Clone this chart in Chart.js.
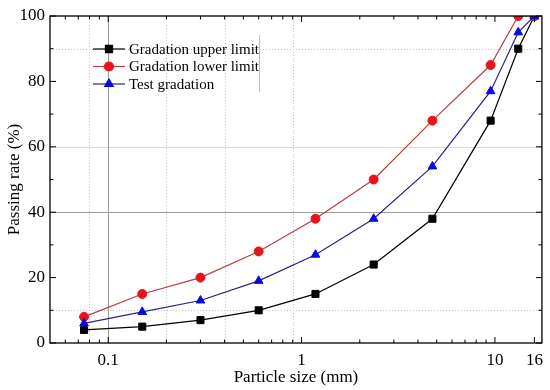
<!DOCTYPE html>
<html>
<head>
<meta charset="utf-8">
<script src="https://cdn.jsdelivr.net/npm/chart.js@4.4.1/dist/chart.umd.min.js"></script>
<style>
    html, body { margin: 0; padding: 0; background: #fff; }
    #contenedor { width: 550px; height: 390px; }
</style>
</head>
<body>
<div id="contenedor"><canvas id="gradacion"></canvas></div>
<script>
// Tamanos de tamiz (mm) y porcentaje que pasa
const tamanos = [0.075, 0.15, 0.3, 0.6, 1.18, 2.36, 4.75, 9.5, 13.2, 16];
const limiteSuperior = [4, 5, 7, 10, 15, 24, 38, 68, 90, 100];
const limiteInferior = [8, 15, 20, 28, 38, 50, 68, 85, 100, 100];
const gradacionEnsayo = [6, 9.5, 13, 19, 27, 38, 54, 77, 95, 100];
const nombresSeries = ['Gradation upper limit', 'Gradation lower limit', 'Test gradation'];

// Marcas del eje x (log) y las que llevan etiqueta
const marcasX = [0.06, 0.07, 0.08, 0.09, 0.1, 0.2, 0.3, 0.4, 0.5, 0.6, 0.7, 0.8, 0.9,
                 1, 2, 3, 4, 5, 6, 7, 8, 9, 10, 16];
const etiquetasX = [0.1, 1, 10, 16];

// Lineas de rejilla que aparecen en la figura original
const rejillaXPunteada = [0.08, 0.2, 0.4, 0.9];
const rejillaXSolida = [0.1];
const rejillaYPunteada = [10, 90];
const rejillaYClara = [60];
const rejillaYSolida = [40];

const fuente = "'Liberation Serif', 'Times New Roman', serif";
const aPuntos = valores => tamanos.map((t, i) => ({ x: t, y: valores[i] }));

// Plugin para rejilla, marco con marcas hacia dentro y leyenda interior
const marcoPlugin = {
    id: 'marco',
    beforeDatasetsDraw(chart) {
        const { ctx, chartArea: a, scales: { x, y } } = chart;
        ctx.save();
        ctx.lineWidth = 1;
        const vertical = (v, color, dash) => {
            const px = Math.round(x.getPixelForValue(v)) + 0.5;
            ctx.strokeStyle = color;
            ctx.setLineDash(dash);
            ctx.beginPath(); ctx.moveTo(px, a.top); ctx.lineTo(px, a.bottom); ctx.stroke();
        };
        const horizontal = (v, color, dash) => {
            const py = Math.round(y.getPixelForValue(v)) + 0.5;
            ctx.strokeStyle = color;
            ctx.setLineDash(dash);
            ctx.beginPath(); ctx.moveTo(a.left, py); ctx.lineTo(a.right, py); ctx.stroke();
        };
        rejillaXPunteada.forEach(v => vertical(v, '#c4c4c4', [1, 2]));
        rejillaYPunteada.forEach(v => horizontal(v, '#c4c4c4', [1, 2]));
        rejillaYClara.forEach(v => horizontal(v, '#dcdcdc', []));
        rejillaXSolida.forEach(v => vertical(v, '#9a9a9a', []));
        rejillaYSolida.forEach(v => horizontal(v, '#9a9a9a', []));
        ctx.restore();
    },
    afterDatasetsDraw(chart) {
        const { ctx, chartArea: a, scales: { x, y } } = chart;
        ctx.save();
        ctx.strokeStyle = '#000';
        ctx.lineWidth = 1.3;
        ctx.strokeRect(a.left, a.top, a.right - a.left, a.bottom - a.top);

        // Marcas hacia dentro en los cuatro lados
        ctx.lineWidth = 1;
        ctx.beginPath();
        x.ticks.forEach(t => {
            const px = x.getPixelForValue(t.value);
            const largo = etiquetasX.includes(t.value) ? 6 : 3.5;
            ctx.moveTo(px, a.bottom); ctx.lineTo(px, a.bottom - largo);
            ctx.moveTo(px, a.top); ctx.lineTo(px, a.top + largo);
        });
        y.ticks.forEach(t => {
            const py = y.getPixelForValue(t.value);
            const largo = t.value % 20 === 0 ? 6 : 3.5;
            ctx.moveTo(a.left, py); ctx.lineTo(a.left + largo, py);
            ctx.moveTo(a.right, py); ctx.lineTo(a.right - largo, py);
        });
        ctx.stroke();

        // Leyenda dentro del area de la grafica
        const x0 = a.left + 43, x1 = a.left + 75;
        ctx.font = '15px ' + fuente;
        ctx.textBaseline = 'middle';
        chart.data.datasets.forEach((ds, i) => {
            const fy = a.top + 33 + i * 17.5;
            ctx.strokeStyle = ds.borderColor;
            ctx.lineWidth = ds.borderWidth;
            ctx.beginPath(); ctx.moveTo(x0, fy); ctx.lineTo(x1, fy); ctx.stroke();
            ctx.fillStyle = ds.pointBackgroundColor;
            ctx.strokeStyle = ds.pointBorderColor;
            Chart.helpers.drawPoint(ctx, {
                pointStyle: ds.pointStyle, radius: ds.pointRadius, rotation: 0, borderWidth: 1
            }, (x0 + x1) / 2, fy);
            ctx.fillStyle = '#000';
            ctx.fillText(ds.label, x1 + 4, fy + 1);
        });
        // Borde derecho del recuadro de la leyenda
        ctx.strokeStyle = '#bdbdbd';
        ctx.lineWidth = 1;
        ctx.beginPath();
        ctx.moveTo(a.left + 209.5, a.top + 19); ctx.lineTo(a.left + 209.5, a.top + 76);
        ctx.stroke();
        ctx.restore();
    }
};

const grafica = new Chart(document.getElementById('gradacion'), {
    type: 'scatter',
    data: {
        datasets: [{
            label: nombresSeries[0],
            data: aPuntos(limiteSuperior),
            borderColor: '#000000',
            pointBackgroundColor: '#000000',
            pointBorderColor: '#000000',
            pointStyle: 'rect',
            pointRadius: 5,
            order: 2
        }, {
            label: nombresSeries[1],
            data: aPuntos(limiteInferior),
            borderColor: '#b5413f',
            pointBackgroundColor: '#e8141c',
            pointBorderColor: '#e8141c',
            pointStyle: 'circle',
            pointRadius: 4.5,
            order: 1
        }, {
            label: nombresSeries[2],
            data: aPuntos(gradacionEnsayo),
            borderColor: '#262680',
            pointBackgroundColor: '#0a0ae0',
            pointBorderColor: '#0a0ae0',
            pointStyle: 'triangle',
            pointRadius: 5,
            order: 0
        }].map(ds => Object.assign(ds, {
            showLine: true,
            borderWidth: 1.2,
            pointBorderWidth: 1,
            pointHoverRadius: ds.pointRadius,
            tension: 0,
            clip: 0
        }))
    },
    options: {
        responsive: true,
        maintainAspectRatio: false,
        animation: false,
        layout: { padding: { top: 16, right: 7, left: 0, bottom: 0 } },
        plugins: {
            legend: { display: false },
            tooltip: { enabled: false }
        },
        scales: {
            x: {
                type: 'logarithmic',
                min: 0.05,
                max: 17.5,
                afterBuildTicks: scale => {
                    scale.ticks = marcasX.map(v => ({ value: v, major: etiquetasX.includes(v) }));
                },
                afterFit: scale => { scale.height = 47; },
                grid: { display: false, drawTicks: false },
                border: { display: false },
                ticks: {
                    autoSkip: false,
                    maxRotation: 0,
                    padding: 7,
                    color: '#000',
                    font: { family: fuente, size: 17 },
                    callback: v => etiquetasX.includes(v) ? String(v) : ''
                },
                title: {
                    display: true,
                    text: 'Particle size (mm)',
                    color: '#000',
                    font: { family: fuente, size: 17 },
                    padding: { top: 0, bottom: 2 }
                }
            },
            y: {
                min: 0,
                max: 100,
                afterFit: scale => { scale.width = 50; },
                grid: { display: false, drawTicks: false },
                border: { display: false },
                ticks: {
                    stepSize: 10,
                    padding: 5,
                    color: '#000',
                    font: { family: fuente, size: 17 },
                    callback: v => v % 20 === 0 ? String(v) : ''
                },
                title: {
                    display: true,
                    text: 'Passing rate (%)',
                    color: '#000',
                    font: { family: fuente, size: 17 },
                    padding: { top: 4, bottom: 0 }
                }
            }
        }
    },
    plugins: [marcoPlugin]
});
</script>
</body>
</html>
